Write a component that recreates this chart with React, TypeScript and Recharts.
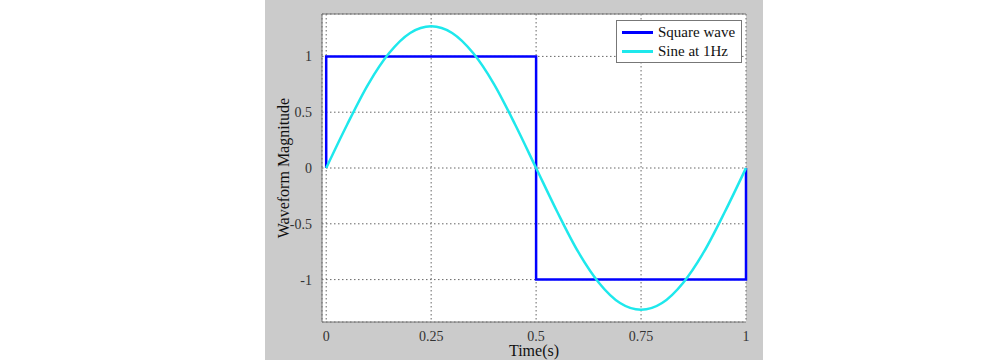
import { LineChart, Line, XAxis, YAxis, CartesianGrid, ReferenceLine } from 'recharts';

// square wave corners (time, value)
const squareT = [0, 0, 0.5, 0.5, 1, 1];
const squareV = [0, 1, 1, -1, -1, 0];

// sine at 1Hz, every 0.05 s
const sineT = [0, 0.05, 0.1, 0.15, 0.2, 0.25, 0.3, 0.35, 0.4, 0.45, 0.5,
  0.55, 0.6, 0.65, 0.7, 0.75, 0.8, 0.85, 0.9, 0.95, 1];
const sineV = [0, 0.39, 0.75, 1.03, 1.21, 1.27, 1.21, 1.03, 0.75, 0.39, 0,
  -0.39, -0.75, -1.03, -1.21, -1.27, -1.21, -1.03, -0.75, -0.39, 0];

const xTicks = [0, 0.25, 0.5, 0.75, 1];
const yTicks = [-1, -0.5, 0, 0.5, 1];
const xLabels = ['0', '0.25', '0.5', '0.75', '1'];

const squareData = squareT.map((t, i) => ({ t, v: squareV[i] }));
const sineData = sineT.map((t, i) => ({ t, v: sineV[i] }));

const FONT = '"Liberation Serif", "DejaVu Serif", serif';
const Y_MIN = -1.38;
const Y_MAX = 1.38;

function LegendBox() {
  const items = [
    { label: 'Square wave', color: '#0000ff' },
    { label: 'Sine at 1Hz', color: '#1ee8ec' },
  ];
  return (
    <div style={{
      position: 'absolute', left: 616, top: 20, boxSizing: 'border-box',
      background: '#fff', border: '1px solid #777', width: 126, height: 43, padding: '2px 0',
      fontFamily: FONT, fontSize: 15, color: '#111',
    }}>
      {items.map((it) => (
        <div key={it.label} style={{ display: 'flex', alignItems: 'center', height: 19 }}>
          <span style={{ display: 'inline-block', width: 31, height: 2.5, background: it.color, marginLeft: 5, marginRight: 5 }} />
          {it.label}
        </div>
      ))}
    </div>
  );
}

export default function App() {
  return (
    <div style={{ position: 'absolute', left: 0, top: 0, width: 1000, height: 360, background: '#fff' }}>
      <div style={{ position: 'absolute', left: 265, top: 0, width: 498, height: 360, background: '#cbcbcb' }} />
      <div style={{ position: 'absolute', left: 0, top: 0 }}>
        <LineChart width={1000} height={360} margin={{ top: 14, right: 254, bottom: 18, left: 262 }}>
          <CartesianGrid fill="#fff" stroke="#666" strokeDasharray="1.5 2.5" />
          <XAxis type="number" dataKey="t" domain={[-0.01, 1]} ticks={xTicks}
            tickFormatter={(v: number) => xLabels[xTicks.indexOf(v)] ?? String(v)}
            allowDuplicatedCategory={false} height={20} stroke="#777" tickLine={false}
            tick={{ fill: '#333', fontSize: 14, fontFamily: FONT }} tickMargin={3}
            label={{ value: 'Time(s)', position: 'insideBottom', offset: -14, fill: '#111', fontSize: 16, fontFamily: FONT }} />
          <YAxis type="number" domain={[Y_MIN, Y_MAX]} ticks={yTicks} width={60}
            stroke="#777" tickLine={false} allowDataOverflow
            tick={{ fill: '#333', fontSize: 14, fontFamily: FONT }} tickMargin={4}
            label={{ value: 'Waveform Magnitude', angle: -90, position: 'insideLeft', offset: 21, style: { textAnchor: 'middle' }, fill: '#111', fontSize: 16, fontFamily: FONT }} />
          <ReferenceLine y={Y_MAX} stroke="#777" />
          <Line data={squareData} dataKey="v" type="linear" stroke="#0000ff" strokeWidth={2.5} dot={false} isAnimationActive={false} />
          <Line data={sineData} dataKey="v" type="monotone" stroke="#1ee8ec" strokeWidth={2.5} dot={false} isAnimationActive={false} />
        </LineChart>
      </div>
      <LegendBox />
    </div>
  );
}
